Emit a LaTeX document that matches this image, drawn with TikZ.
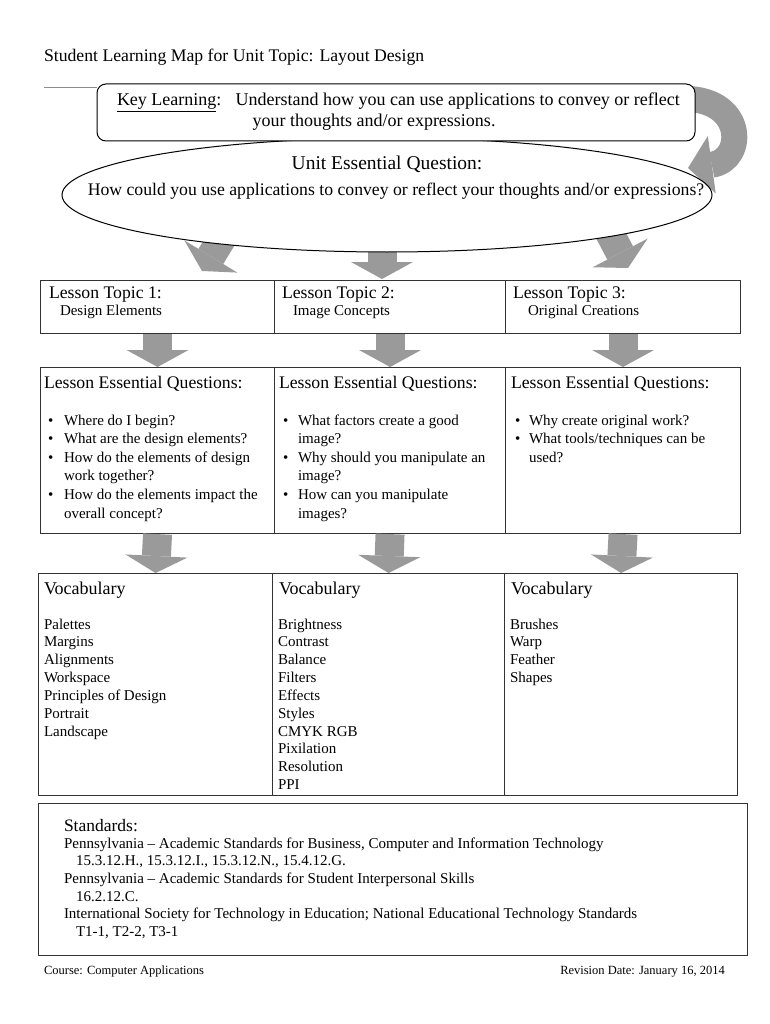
\documentclass[tikz,border=0pt]{standalone}
\usepackage{fontspec}
\setmainfont{Liberation Serif}
\usetikzlibrary{shapes.geometric,arrows.meta}
\definecolor{arrowgray}{HTML}{9A9A9A}
\definecolor{boxline}{HTML}{333333}
\newcommand\fBig{\fontsize{17.7}{21}\selectfont}
\newcommand\fKey{\fontsize{18}{21}\selectfont}
\newcommand\fHead{\fontsize{19.5}{23}\selectfont}
\newcommand\fBody{\fontsize{15}{18}\selectfont}
\newcommand\fFoot{\fontsize{12.5}{15}\selectfont}
\begin{document}
\begin{tikzpicture}[x=1pt,y=-1pt,
  txt/.style={anchor=base west, inner sep=0pt, outer sep=0pt},
  ctxt/.style={anchor=base, inner sep=0pt, outer sep=0pt},
  cell/.style={draw=boxline, line width=1.1pt, anchor=north west, inner sep=0pt, fill=white},
  blockarrow/.style={draw=arrowgray, line width=29pt, -{Triangle[length=17pt,width=62pt,line width=0pt]}},
  curvearrow/.style={draw=arrowgray, line width=26pt, -{Triangle[length=24pt,width=58pt,line width=0pt]}},
  bul/.style={anchor=base west, inner sep=0pt, font=\fBody}
]
\fill[white] (0,0) rectangle (770,1024);
\useasboundingbox (0,0) rectangle (770,1024);

% title
\node[txt] (title) at (44,62) {\fBig Student Learning Map for Unit Topic: Layout Design};

% curved arrow (behind key box and ellipse)
\coordinate (cs) at (678,99);
\coordinate (ct) at (688,168);
\draw[curvearrow] (cs) .. controls (746,95) and (746,160) .. (ct);

% arrows from ellipse (behind ellipse)
\coordinate (e1) at (230,225);
\coordinate (e1t) at (202,271);
\coordinate (e2) at (382,235);
\coordinate (e2t) at (382,279);
\coordinate (e3) at (604,222);
\coordinate (e3t) at (628,268);
\draw[blockarrow] (e1) -- (e1t);
\draw[blockarrow] (e2) -- (e2t);
\draw[blockarrow] (e3) -- (e3t);

% ellipse
\node[ellipse, draw=black, line width=1pt, fill=white, minimum width=650pt, minimum height=114pt, inner sep=0pt] (ue) at (387,195) {};
\node[ctxt] (ueq) at (387,170) {\fHead Unit Essential Question:};
\node[ctxt] (ueq2) at (396,196) {\fBig How could you use applications to convey or reflect your thoughts and/or expressions?};

% key learning box
\node[draw=black, line width=1pt, fill=white, rounded corners=9pt, minimum width=598pt, minimum height=57pt, inner sep=0pt] (kl) at (396,112.5) {};
\coordinate (ls) at (44,87);
\draw[black!45, line width=0.8pt] (ls) -- (ls -| kl.west);
\node[txt] (kl1) at (117,106) {\fKey \underline{Key Learning}:\hspace{0.45em} Understand how you can use applications to convey or reflect};
\node[ctxt] (kl2) at (374,127) {\fKey your thoughts and/or expressions.};

% lesson topic row
\node[cell, minimum width=234pt, minimum height=53pt] (t1) at (40,280) {};
\node[cell, minimum width=231pt, minimum height=53pt] (t2) at (274,280) {};
\node[cell, minimum width=235pt, minimum height=53pt] (t3) at (505,280) {};
\node[txt] (t1a) at (49,298) {\fBig Lesson Topic 1:};
\node[txt] (t1b) at (60,315) {\fBody Design Elements};
\node[txt] (t2a) at (282,298) {\fBig Lesson Topic 2:};
\node[txt] (t2b) at (293,315) {\fBody Image Concepts};
\node[txt] (t3a) at (513,298) {\fBig Lesson Topic 3:};
\node[txt] (t3b) at (528,315) {\fBody Original Creations};

% lesson essential questions row
\node[cell, minimum width=234pt, minimum height=166pt] (q1) at (40,367) {};
\node[cell, minimum width=231pt, minimum height=166pt] (q2) at (274,367) {};
\node[cell, minimum width=235pt, minimum height=166pt] (q3) at (505,367) {};
\draw[blockarrow] (t1.south) -- (q1.north);
\draw[blockarrow] (t2.south) -- (q2.north);
\draw[blockarrow] (t3.south) -- (q3.north);

\node[txt] (q1h) at (44,388) {\fBig Lesson Essential Questions:};
\node[txt] (q2h) at (279,388) {\fBig Lesson Essential Questions:};
\node[txt] (q3h) at (511,388) {\fBig Lesson Essential Questions:};

% column 1 bullets
\node[bul] (b11) at (48,425) {\textbullet};
\node[bul] (b12) at (48,443.6) {\textbullet};
\node[bul] (b13) at (48,462.2) {\textbullet};
\node[bul] (b14) at (48,499.4) {\textbullet};
\node[txt] (c1l1) at (64,425) {\fBody Where do I begin?};
\node[txt] (c1l2) at (64,443.6) {\fBody What are the design elements?};
\node[txt] (c1l3) at (64,462.2) {\fBody How do the elements of design};
\node[txt] (c1l4) at (64,480.8) {\fBody work together?};
\node[txt] (c1l5) at (64,499.4) {\fBody How do the elements impact the};
\node[txt] (c1l6) at (64,518) {\fBody overall concept?};

% column 2 bullets
\node[bul] (b21) at (283,425) {\textbullet};
\node[bul] (b22) at (283,462.2) {\textbullet};
\node[bul] (b23) at (283,499.4) {\textbullet};
\node[txt] (c2l1) at (298,425) {\fBody What factors create a good};
\node[txt] (c2l2) at (298,443.6) {\fBody image?};
\node[txt] (c2l3) at (298,462.2) {\fBody Why should you manipulate an};
\node[txt] (c2l4) at (298,480.8) {\fBody image?};
\node[txt] (c2l5) at (298,499.4) {\fBody How can you manipulate};
\node[txt] (c2l6) at (298,518) {\fBody images?};

% column 3 bullets
\node[bul] (b31) at (515,425) {\textbullet};
\node[bul] (b32) at (515,443.6) {\textbullet};
\node[txt] (c3l1) at (529,425) {\fBody Why create original work?};
\node[txt] (c3l2) at (529,443.6) {\fBody What tools/techniques can be};
\node[txt] (c3l3) at (529,462.2) {\fBody used?};

% vocabulary row
\node[cell, minimum width=234pt, minimum height=222pt] (v1) at (38,573) {};
\node[cell, minimum width=232pt, minimum height=222pt] (v2) at (272,573) {};
\node[cell, minimum width=233pt, minimum height=222pt] (v3) at (504,573) {};
\draw[blockarrow] (q1.south) -- (v1.north);
\draw[blockarrow] (q2.south) -- (v2.north);
\draw[blockarrow] (q3.south) -- (v3.north);

\node[txt] (v1h) at (44,594) {\fontsize{18}{21}\selectfont Vocabulary};
\node[txt] (v2h) at (279,594) {\fontsize{18}{21}\selectfont Vocabulary};
\node[txt] (v3h) at (511,594) {\fontsize{18}{21}\selectfont Vocabulary};

\node[txt] (v1a) at (44,629) {\fBody Palettes};
\node[txt] (v1b) at (44,646.85) {\fBody Margins};
\node[txt] (v1c) at (44,664.7) {\fBody Alignments};
\node[txt] (v1d) at (44,682.55) {\fBody Workspace};
\node[txt] (v1e) at (44,700.4) {\fBody Principles of Design};
\node[txt] (v1f) at (44,718.25) {\fBody Portrait};
\node[txt] (v1g) at (44,736.1) {\fBody Landscape};

\node[txt] (v2a) at (278,629) {\fBody Brightness};
\node[txt] (v2b) at (278,646.85) {\fBody Contrast};
\node[txt] (v2c) at (278,664.7) {\fBody Balance};
\node[txt] (v2d) at (278,682.55) {\fBody Filters};
\node[txt] (v2e) at (278,700.4) {\fBody Effects};
\node[txt] (v2f) at (278,718.25) {\fBody Styles};
\node[txt] (v2g) at (278,736.1) {\fBody CMYK RGB};
\node[txt] (v2h) at (278,753.95) {\fBody Pixilation};
\node[txt] (v2i) at (278,771.8) {\fBody Resolution};
\node[txt] (v2j) at (278,789.65) {\fBody PPI};

\node[txt] (v3a) at (510,629) {\fBody Brushes};
\node[txt] (v3b) at (510,646.85) {\fBody Warp};
\node[txt] (v3c) at (510,664.7) {\fBody Feather};
\node[txt] (v3d) at (510,682.55) {\fBody Shapes};

% standards
\node[cell, minimum width=709pt, minimum height=152pt] (st) at (38,803) {};
\node[txt] (sth) at (64,831) {\fontsize{17.5}{21}\selectfont Standards:};
\node[txt] (st1) at (64,848) {\fBody Pennsylvania -- Academic Standards for Business, Computer and Information Technology};
\node[txt] (st2) at (76,865.7) {\fBody 15.3.12.H., 15.3.12.I., 15.3.12.N., 15.4.12.G.};
\node[txt] (st3) at (64,883.4) {\fBody Pennsylvania -- Academic Standards for Student Interpersonal Skills};
\node[txt] (st4) at (76,901.1) {\fBody 16.2.12.C.};
\node[txt] (st5) at (64,918.8) {\fBody International Society for Technology in Education; National Educational Technology Standards};
\node[txt] (st6) at (76,936.5) {\fBody T1-1, T2-2, T3-1};

% footer
\node[txt] (f1) at (44,974) {\fFoot Course: Computer Applications};
\node[anchor=base east, inner sep=0pt] (f2) at (725,974) {\fFoot Revision Date: January 16, 2014};
\end{tikzpicture}
\end{document}
